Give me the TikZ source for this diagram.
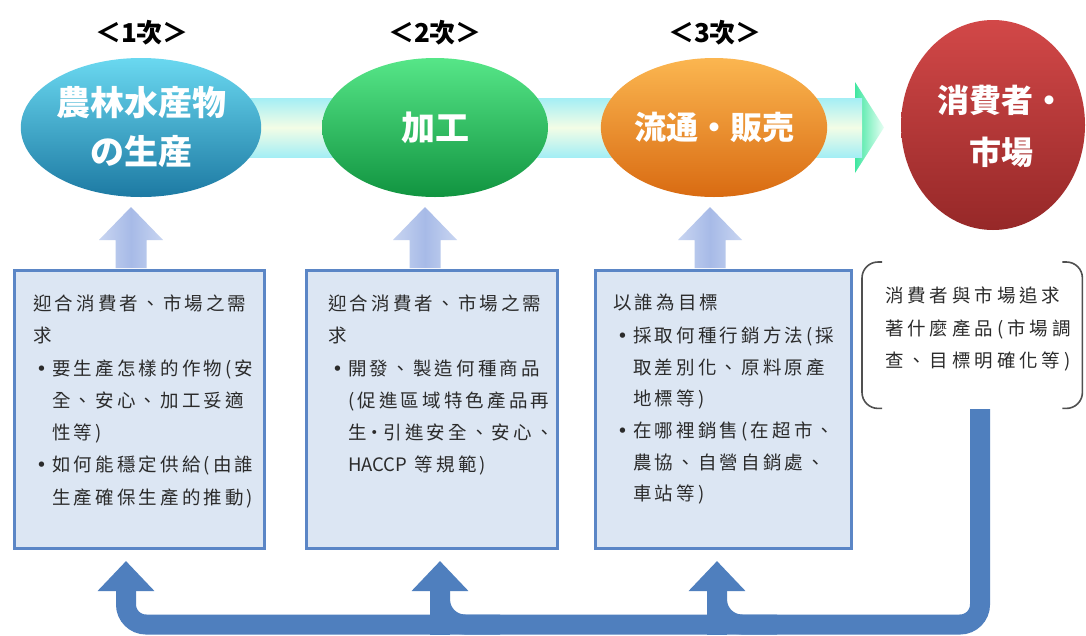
\documentclass[tikz,border=0pt]{standalone}
\usepackage{fontspec}
\newfontfamily\tcfont{Noto Sans CJK TC}
\newfontfamily\tcspaced[LetterSpace=17]{Noto Sans CJK TC}
\newfontfamily\tcwide[LetterSpace=21]{Noto Sans CJK TC}
\newfontfamily\jpfont{Noto Sans CJK JP}
\newfontfamily\dvfont{DejaVu Sans}
\usetikzlibrary{shapes.geometric,arrows.meta,calc}
\definecolor{eAt}{HTML}{6AD8F0}\definecolor{eAm}{HTML}{31A6CC}\definecolor{eAb}{HTML}{1D7AA3}
\definecolor{eBt}{HTML}{56E688}\definecolor{eBm}{HTML}{1FC055}\definecolor{eBb}{HTML}{119440}
\definecolor{eCt}{HTML}{FBB650}\definecolor{eCm}{HTML}{F08C24}\definecolor{eCb}{HTML}{D96B12}
\definecolor{eDt}{HTML}{D24848}\definecolor{eDm}{HTML}{C23B3B}\definecolor{eDb}{HTML}{962828}
\definecolor{boxfill}{HTML}{DCE6F3}\definecolor{boxline}{HTML}{5B86C6}
\definecolor{lightA}{HTML}{C8D5F1}\definecolor{lightB}{HTML}{A7BAE7}
\definecolor{darkA}{HTML}{4F7FBE}
\definecolor{bandE}{HTML}{A4EEF5}\definecolor{bandM}{HTML}{F3FDE6}
\definecolor{headG}{HTML}{3FE6A0}\definecolor{headW}{HTML}{E8FFF4}
\definecolor{textc}{HTML}{2B2B2B}\definecolor{brk}{HTML}{505050}
\newcommand\bul{\llap{\makebox[16pt][l]{\dvfont •}}}
\tikzset{
  oval/.style={ellipse, draw=none, inner sep=0pt, text=white, align=center,
    font=\jpfont\bfseries\fontsize{34}{49}\selectfont},
  hdr/.style={inner sep=0pt, font=\tcfont\bfseries\fontsize{26}{30}\selectfont, text=black},
  panel/.style={draw=boxline, line width=3pt, fill=boxfill, anchor=north west, inner sep=0pt},
  txt/.style={anchor=base west, inner sep=0pt, text=textc, font=\tcspaced\fontsize{18.5}{22}\selectfont},
  wtxt/.style={txt, font=\tcwide\fontsize{18.5}{22}\selectfont},
  lshade/.style={left color=lightA, right color=lightA, middle color=lightB},
  darr/.style={draw=darkA, line width=20pt, -{Triangle[width=55pt,length=30pt]}},
  brack/.style={draw=brk, line width=1.6pt, rounded corners=16pt}
}
\begin{document}
\begin{tikzpicture}[x=1pt,y=-1pt]
\path[use as bounding box] (0,0) rectangle (1086,635);
\fill[white] (0,0) rectangle (1086,635);

% big band arrow
\shade[left color=headG, right color=headW] (855,82) -- (884,127.5) -- (855,173) -- cycle;
\shade[top color=bandE, bottom color=bandE, middle color=bandM] (200,98) rectangle (862,157);

% stage headers
\node[hdr] (h1) at (142,33) {＜1次＞};
\node[hdr] (h2) at (435,33) {＜2次＞};
\node[hdr] (h3) at (715,33) {＜3次＞};

% ellipses
\node[oval, minimum width=226pt, minimum height=139pt, top color=eAt, middle color=eAm, bottom color=eAb] (e1) at (141,127.5) {農林水産物\\の生産};
\node[oval, minimum width=226pt, minimum height=139pt, top color=eBt, middle color=eBm, bottom color=eBb] (e2) at (435,127.5) {加工};
\node[oval, minimum width=225pt, minimum height=139pt, top color=eCt, middle color=eCm, bottom color=eCb, font=\jpfont\bfseries\fontsize{32}{49}\selectfont] (e3) at (714,127.5) {流通・販売};
\node[oval, minimum width=184pt, minimum height=210pt, top color=eDt, middle color=eDm, bottom color=eDb] (e4) at (993,125) {};
\node[inner sep=0pt, text=white, align=center, font=\jpfont\bfseries\fontsize{32}{52}\selectfont] (e4t) at (1001,126) {消費者・\\市場};

% boxes
\node[panel, minimum width=250pt, minimum height=278pt] (b1) at (13,269) {};
\node[panel, minimum width=251pt, minimum height=278pt] (b2) at (305,269) {};
\node[panel, minimum width=256pt, minimum height=278pt] (b3) at (594,269) {};
\node[anchor=north west, minimum width=220pt, minimum height=146pt, inner sep=0pt] (b4) at (862,262) {};
\draw[brack] ($(b4.north west)+(20,0)$) -- (b4.north west) -- (b4.south west) -- ++(20,0);
\draw[brack] ($(b4.north east)+(-20,0)$) -- (b4.north east) -- (b4.south east) -- ++(-20,0);

% light up arrows (box -> stage)
\foreach \cx in {131,425,710}{
  \shade[lshade] (\cx-15.5,268) -- (\cx-15.5,240) -- (\cx-32,240) -- (\cx,207) -- (\cx+32,240) -- (\cx+15.5,240) -- (\cx+15.5,268) -- cycle;
}

% dark feedback arrows
\coordinate (src) at (980,409);
\coordinate (bar) at (0,624.5);
\coordinate (t1) at (126,561);
\coordinate (t2) at (440,561);
\coordinate (t3) at (717,561);
\draw[darr, rounded corners=20pt] (src) -- (src |- bar) -| (t1);
\draw[draw=darkA, line width=20pt] ($(t2 |- bar)+(0,10)$) -- ++(0,-40);
\draw[draw=darkA, line width=20pt] ($(t3 |- bar)+(0,10)$) -- ++(0,-40);
\draw[darr, rounded corners=25pt] ($(t2 |- bar)+(60,0)$) -- (t2 |- bar) -- (t2);
\draw[darr, rounded corners=25pt] ($(t3 |- bar)+(60,0)$) -- (t3 |- bar) -- (t3);

% box 1 text
\node[txt] (a1) at (33,310) {迎合消費者、市場之需};
\node[txt] (a2) at (33,342) {求};
\node[txt] (a3) at (52,375) {\bul 要生產怎樣的作物(安};
\node[txt] (a4) at (52,407) {全、安心、加工妥適};
\node[txt] (a5) at (52,439) {性等)};
\node[txt] (a6) at (52,471) {\bul 如何能穩定供給(由誰};
\node[txt] (a7) at (52,504) {生產確保生產的推動)};

% box 2 text
\node[txt] (c1) at (328,310) {迎合消費者、市場之需};
\node[txt] (c2) at (328,342) {求};
\node[txt] (c3) at (348,375) {\bul 開發、製造何種商品};
\node[txt] (c4) at (348,407) {(促進區域特色產品再};
\node[txt] (c5) at (348,439) {生\makebox[17pt]{\tcfont ‧}引進安全、安心、};
\node[txt] (c6) at (348,471) {{\tcfont HACCP} 等規範)};

% box 3 text
\node[txt] (d1) at (613,309) {以誰為目標};
\node[txt] (d2) at (633,342) {\bul 採取何種行銷方法(採};
\node[txt] (d3) at (633,374) {取差別化、原料原產};
\node[txt] (d4) at (633,405) {地標等)};
\node[txt] (d5) at (633,437) {\bul 在哪裡銷售(在超市、};
\node[txt] (d6) at (633,469) {農協、自營自銷處、};
\node[txt] (d7) at (633,500) {車站等)};

% bracket text
\node[wtxt] (f1) at (885,302) {消費者與市場追求};
\node[wtxt] (f2) at (885,335) {著什麼產品(市場調};
\node[wtxt] (f3) at (885,367) {查、目標明確化等)};
\end{tikzpicture}
\end{document}
